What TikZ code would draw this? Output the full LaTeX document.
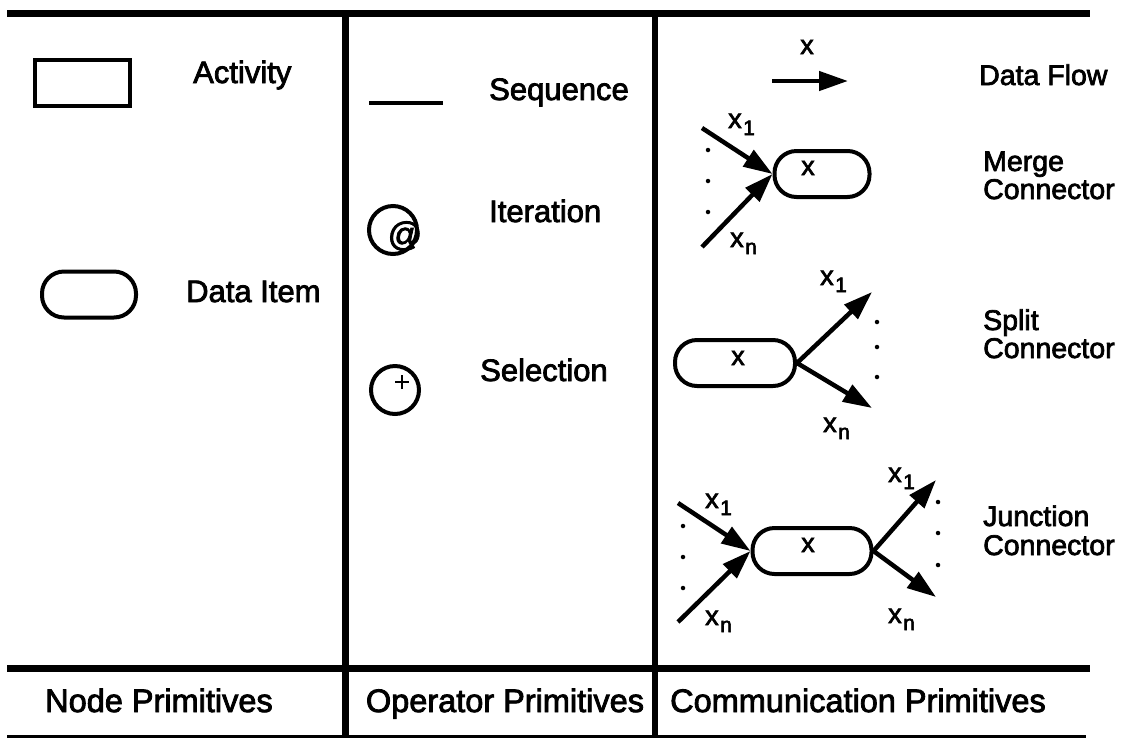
\documentclass[tikz,border=0pt]{standalone}
\usepackage{fontspec}
\setmainfont{Liberation Sans}[FakeBold=2.5]
\usetikzlibrary{arrows.meta}
\newcommand{\xsub}[1]{x\hspace{1.5pt}\raisebox{-7pt}{\fontsize{21}{21}\selectfont #1}}
\begin{document}
\begin{tikzpicture}[x=1pt,y=-1pt,
  lbl/.style={font=\fontsize{31}{34}\selectfont, inner sep=0pt, anchor=base west},
  rlbl/.style={font=\fontsize{28.5}{30}\selectfont, inner sep=0pt, anchor=base west},
  foot/.style={font=\fontsize{32.5}{35}\selectfont, inner sep=0pt, anchor=base},
  small/.style={font=\fontsize{27}{29}\selectfont, inner sep=0pt},
  sublbl/.style={small, anchor=base west},
  oval/.style={draw, line width=4pt, rounded corners=22pt, minimum height=46pt, inner sep=0pt},
  flow/.style={line width=4.5pt, -{Triangle[length=29pt,width=19pt]}},
  dotm/.style={circle, fill, inner sep=0pt, minimum size=4.5pt},
  rule/.style={line width=7pt},
]
\useasboundingbox (0,0) rectangle (1121,740);

% frame
\draw[rule] (7,13) -- (1090,13);
\draw[rule] (7,668) -- (1090,668);
\draw[line width=3pt] (7,736) -- (1086,736);
\draw[rule] (345,13) -- (345,737);
\draw[line width=6pt] (655,13) -- (655,737);

% footer
\node[foot] (fn) at (159,712) {Node Primitives};
\node[foot] (fo) at (505,712) {Operator Primitives};
\node[foot] (fc) at (858,712) {Communication Primitives};

% node primitives
\node[draw, line width=4pt, minimum width=95pt, minimum height=46pt, inner sep=0pt] (act) at (82.5,83) {};
\node[lbl] (actl) at (193,83) {Activity};
\node[oval, minimum width=94pt] (di) at (89,294.5) {};
\node[lbl] (dil) at (186,302) {Data Item};

% operator primitives
\coordinate (sq1) at (369,103);
\coordinate (sq2) at (443,103);
\draw[line width=4pt] (sq1) -- (sq2);
\node[lbl] (sql) at (489,100) {Sequence};

\node[draw, circle, line width=4pt, minimum size=48pt, inner sep=0pt] (it) at (393,230) {};
\node[font=\fontsize{34}{34}\selectfont, inner sep=0pt] (at) at (405,236) {@};
\node[lbl] (itl) at (489,222) {Iteration};

\node[draw, circle, line width=4pt, minimum size=48pt, inner sep=0pt] (se) at (395,390) {};
\coordinate (pc) at (402,382);
\draw[line width=2.5pt] ([xshift=-7pt]pc) -- ([xshift=7pt]pc) ([yshift=-7pt]pc) -- ([yshift=7pt]pc);
\node[lbl] (sel) at (480,381) {Selection};

% data flow
\coordinate (df1) at (772,81);
\coordinate (df2) at (848,81);
\draw[flow] (df1) -- (df2);
\node[small] (dfx) at (807,47) {x};
\node[rlbl] (dfl) at (979,85) {Data Flow};

% merge
\node[oval, minimum width=95pt] (mo) at (822,174) {};
\node[small] (mox) at (808,168) {x};
\coordinate (m1) at (702,128);
\coordinate (mn) at (702,247);
\draw[flow] (m1) -- (mo.west);
\draw[flow] (mn) -- (mo.west);
\node[sublbl] (m1l) at (728,128) {\xsub{1}};
\node[sublbl] (mnl) at (730,247) {\xsub{n}};
\node[dotm] (md1) at (708,150) {};
\node[dotm] (md2) at (708,181) {};
\node[dotm] (md3) at (708,212) {};
\node[rlbl] (ml1) at (983,171) {Merge};
\node[rlbl] (ml2) at (983,199) {Connector};

% split
\node[oval, minimum width=120pt] (so) at (735,363) {};
\node[small] (sox) at (738,358) {x};
\coordinate (s1) at (872,292);
\coordinate (sn) at (872,408);
\draw[flow] (so.east) -- (s1);
\draw[flow] (so.east) -- (sn);
\node[sublbl] (s1l) at (820,285) {\xsub{1}};
\node[sublbl] (snl) at (823,432) {\xsub{n}};
\node[dotm] (sd1) at (877,322) {};
\node[dotm] (sd2) at (877,347) {};
\node[dotm] (sd3) at (877,377) {};
\node[rlbl] (sl1) at (983,330) {Split};
\node[rlbl] (sl2) at (983,358) {Connector};

% junction
\node[oval, minimum width=119pt] (jo) at (812,551) {};
\node[small] (jox) at (808,545) {x};
\coordinate (j1) at (678,503);
\coordinate (jn) at (678,622);
\coordinate (k1) at (936,480);
\coordinate (kn) at (936,597);
\draw[flow] (j1) -- (jo.west);
\draw[flow] (jn) -- (jo.west);
\draw[flow] (jo.east) -- (k1);
\draw[flow] (jo.east) -- (kn);
\node[sublbl] (j1l) at (705,508) {\xsub{1}};
\node[sublbl] (jnl) at (705,625) {\xsub{n}};
\node[sublbl] (k1l) at (888,482) {\xsub{1}};
\node[sublbl] (knl) at (888,623) {\xsub{n}};
\node[dotm] (jd1) at (683,526) {};
\node[dotm] (jd2) at (683,557) {};
\node[dotm] (jd3) at (683,588) {};
\node[dotm] (kd1) at (938,502) {};
\node[dotm] (kd2) at (938,533) {};
\node[dotm] (kd3) at (938,565) {};
\node[rlbl] (jl1) at (983,526) {Junction};
\node[rlbl] (jl2) at (983,555) {Connector};
\end{tikzpicture}
\end{document}
